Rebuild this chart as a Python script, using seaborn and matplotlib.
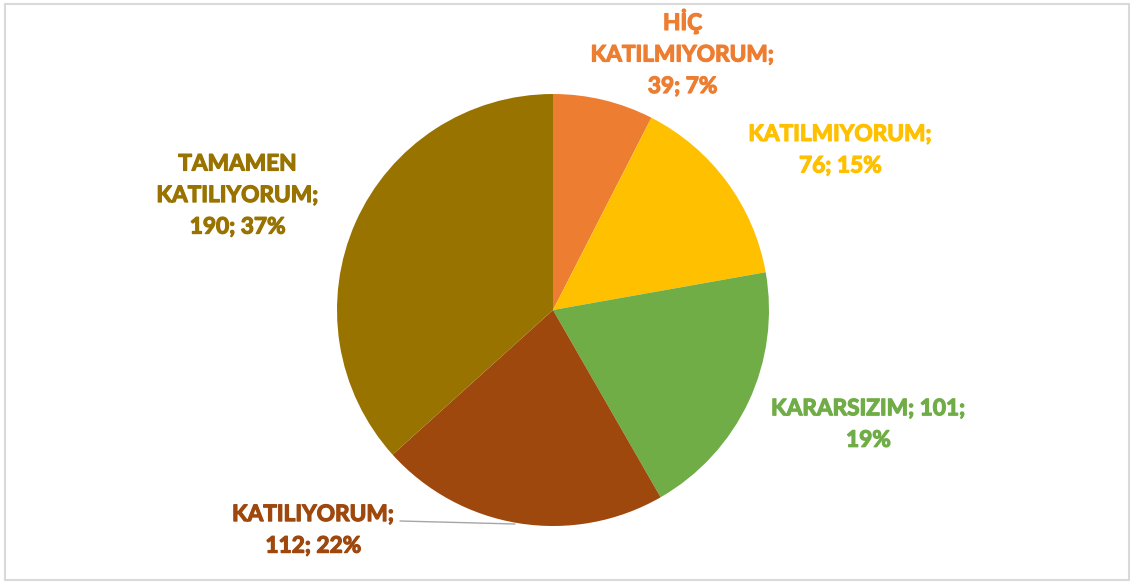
import matplotlib
matplotlib.use("Agg")
import matplotlib.pyplot as plt
import matplotlib.patheffects as pe
import seaborn as sns
from matplotlib.patches import Rectangle

sns.set_theme(style="white")
plt.rcParams['font.family'] = ['Lato', 'DejaVu Sans']

categories = ["HİÇ KATILMIYORUM", "KATILMIYORUM", "KARARSIZIM", "KATILIYORUM", "TAMAMEN KATILIYORUM"]
values = [39, 76, 101, 112, 190]
percents = ["7%", "15%", "19%", "22%", "37%"]
colors = ["#ED7D31", "#FFC000", "#70AD47", "#9E480E", "#997300"]

W, H = 1134, 583
fig = plt.figure(figsize=(W / 100, H / 100), dpi=100)
fig.patches.append(Rectangle((5 / W, 3 / H), 1124 / W, 576 / H, transform=fig.transFigure,
                             fill=False, edgecolor="#D9D9D9", linewidth=1.5))
cx, cy, R = 553, 310, 216
ax = fig.add_axes([(cx - R) / W, (H - cy - R) / H, 2 * R / W, 2 * R / H])
ax.pie(values, colors=colors, startangle=90, counterclock=False, radius=1,
       wedgeprops=dict(edgecolor="none", linewidth=0))
ax.set_xlim(-1, 1)
ax.set_ylim(-1, 1)
ax.set_aspect("equal")
ax.axis("off")

texts = [
    f"HİÇ\nKATILMIYORUM;\n{values[0]}; {percents[0]}",
    f"KATILMIYORUM;\n{values[1]}; {percents[1]}",
    f"KARARSIZIM; {values[2]};\n{percents[2]}",
    f"KATILIYORUM;\n{values[3]}; {percents[3]}",
    f"TAMAMEN\nKATILIYORUM;\n{values[4]}; {percents[4]}",
]
pos = [(0.60, 1.19), (1.33, 0.74), (1.46, -0.53), (-1.11, -1.02), (-1.46, 0.53)]
for t, (x, y), c in zip(texts, pos, colors):
    ax.text(x, y, t, ha="center", va="center", color=c, fontsize=16.3,
            fontweight="bold", linespacing=1.62, clip_on=False,
            path_effects=[pe.withStroke(linewidth=0.9, foreground=c)])

ax.plot([(400 - cx) / R, (515 - cx) / R], [(cy - 521) / R, (cy - 524) / R],
        color="#A6A6A6", linewidth=1, clip_on=False, zorder=0)

fig.savefig("out.png", dpi=100)
